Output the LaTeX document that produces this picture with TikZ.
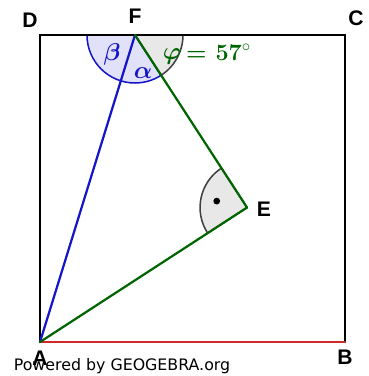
\documentclass[tikz,border=0pt]{standalone}
\usepackage{amsmath}
\usepackage{fontspec}
\setsansfont{Liberation Sans}
\newfontfamily\ggbfont{DejaVu Sans}
\usetikzlibrary{calc}
\definecolor{ggbgreen}{RGB}{0,100,0}
\definecolor{ggbblue}{RGB}{20,20,200}
\definecolor{ggbred}{RGB}{210,40,40}
\definecolor{ggblilac}{RGB}{225,225,250}
\definecolor{ggbgray}{RGB}{232,232,232}

\begin{document}
\begin{tikzpicture}[
x=0.03cm,y=0.03cm,
side/.style={line width=1.9pt,line cap=round},
sector/.style={line width=1.3pt},
pointlabel/.style={font=\sffamily\bfseries\fontsize{18}{20}\selectfont,inner sep=0pt},
greek/.style={font=\fontsize{20}{22}\selectfont,inner sep=0pt}
]
\useasboundingbox (0,0) rectangle (368,376);
\coordinate (A) at (40,34);
\coordinate (B) at (345,34);
\coordinate (C) at (345,341);
\coordinate (D) at (40,341);
\coordinate (F) at (135,341);
\coordinate (Fdir) at ($(F)+(-57:100)$);
\coordinate (E) at ($(F)!(A)!(Fdir)$);

\filldraw[sector,fill=ggblilac,draw=ggbblue] (F) -- ++(180:48) arc[start angle=180,end angle=303,radius=48] -- cycle;
\filldraw[sector,fill=ggbgray,draw=black!75] (F) -- ++(-57:48) arc[start angle=-57,end angle=0,radius=48] -- cycle;
\filldraw[sector,fill=ggbgray,draw=black!75] (E) -- ++(123:47) arc[start angle=123,end angle=213,radius=47] -- cycle;
\fill (E) ++(168:31) circle[radius=3.4];

\draw[side] (A) -- (D) -- (C) -- (B);
\draw[side,ggbred] (A) -- (B);
\draw[side,ggbblue] (A) -- (F);
\draw[side,ggbgreen] (F) -- (E);
\draw[side,ggbgreen] (E) -- (A);

\node[pointlabel] (labD) at (30,356) {D};
\node[pointlabel] (labF) at (135,360) {F};
\node[pointlabel] (labC) at (356,358) {C};
\node[pointlabel] (labE) at (264,167) {E};
\node[pointlabel] (labA) at (40,18) {A};
\node[pointlabel] (labB) at (345,19) {B};

\node[greek,text=ggbblue] (beta) at (112,322) {$\boldsymbol{\beta}$};
\node[greek,text=ggbblue] (alpha) at (143,303) {$\boldsymbol{\alpha}$};
\node[greek,text=ggbgreen] (phi) at (172,320) {$\boldsymbol{\varphi}$};
\node[greek,text=ggbgreen,anchor=west] (phival) at (186,324) {\bfseries = 57$^{\circ}$};

\node[font=\ggbfont\fontsize{13.5}{15}\selectfont,inner sep=0pt] (powered) at (122,10) {Powered by GEOGEBRA.org};
\end{tikzpicture}
\end{document}
